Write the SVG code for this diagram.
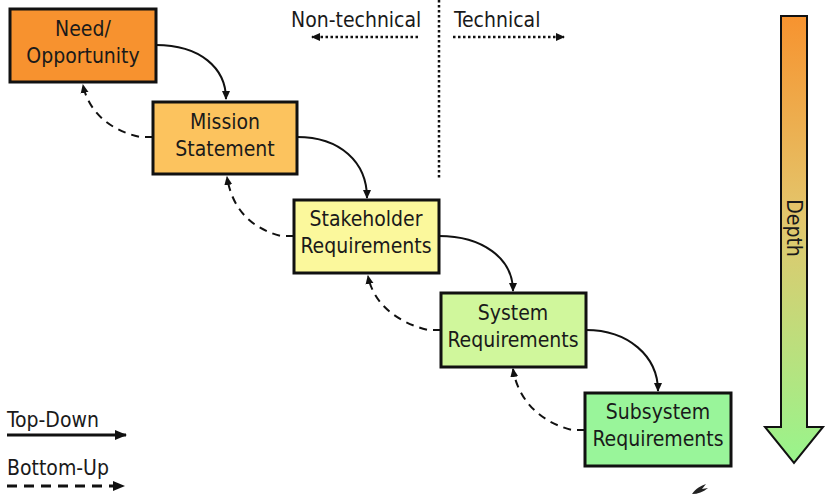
<svg xmlns="http://www.w3.org/2000/svg" width="830" height="504" viewBox="0 0 830 504">
<style>
.box{stroke:#111;stroke-width:3}
.t{font-family:"DejaVu Sans Condensed","DejaVu Sans","Liberation Sans",sans-serif;font-stretch:condensed;font-size:21px;fill:#1a1a1a;text-anchor:middle}
.lbl{font-family:"DejaVu Sans Condensed","DejaVu Sans","Liberation Sans",sans-serif;font-stretch:condensed;font-size:21px;fill:#1a1a1a}
.solid{fill:none;stroke:#111;stroke-width:2}
.dash{fill:none;stroke:#111;stroke-width:2;stroke-dasharray:8 6}
.dot{fill:none;stroke:#111;stroke-width:2.5;stroke-dasharray:2.5 2.5}
</style>
<defs>
<marker id="ah" markerWidth="10" markerHeight="10" refX="8" refY="5" orient="auto" markerUnits="userSpaceOnUse">
<path d="M0,1 L9,5 L0,9 z" fill="#111"/>
</marker>
<marker id="ahl" markerWidth="14" markerHeight="14" refX="11" refY="6" orient="auto" markerUnits="userSpaceOnUse">
<path d="M0,1 L12,6 L0,11 z" fill="#111"/>
</marker>
<linearGradient id="dg" x1="0" y1="0" x2="0" y2="1">
<stop offset="0" stop-color="#F7932F"/>
<stop offset="0.45" stop-color="#E3C66C"/>
<stop offset="1" stop-color="#98F58C"/>
</linearGradient>
</defs>

<g id="connectors">
<path class="solid" d="M156,45 C200,45 226,68 226,99" marker-end="url(#ah)"/>
<path class="solid" d="M297,137 C340,137 367,162 367,198" marker-end="url(#ah)"/>
<path class="solid" d="M439,236 C482,236 513,258 513,291" marker-end="url(#ah)"/>
<path class="solid" d="M586,330 C628,330 658,356 658,391" marker-end="url(#ah)"/>
<path class="dash" d="M153,137 L140,137 C108,130 88,110 83,85" marker-end="url(#ah)"/>
<path class="dash" d="M294,236 L281,236 C250,228 232,208 227,177" marker-end="url(#ah)"/>
<path class="dash" d="M441,330 L428,330 C395,322 373,302 368,276" marker-end="url(#ah)"/>
<path class="dash" d="M585,430 L572,430 C540,422 518,400 513,369" marker-end="url(#ah)"/>
</g>

<g id="need">
<rect class="box" x="10" y="9" width="146" height="73" fill="#F7922F"/>
<text class="t" x="83" y="36">Need/</text>
<text class="t" x="83" y="63">Opportunity</text>
</g>
<g id="mission">
<rect class="box" x="153" y="102" width="144" height="72" fill="#FCC35E"/>
<text class="t" x="225" y="129">Mission</text>
<text class="t" x="225" y="156">Statement</text>
</g>
<g id="stakeholder">
<rect class="box" x="294" y="200" width="145" height="73" fill="#FBF89C"/>
<text class="t" x="366" y="226">Stakeholder</text>
<text class="t" x="366" y="253">Requirements</text>
</g>
<g id="system">
<rect class="box" x="441" y="293" width="145" height="74" fill="#D0F79C"/>
<text class="t" x="513" y="320">System</text>
<text class="t" x="513" y="347">Requirements</text>
</g>
<g id="subsystem">
<rect class="box" x="585" y="393" width="146" height="73" fill="#99F59A"/>
<text class="t" x="658" y="419">Subsystem</text>
<text class="t" x="658" y="446">Requirements</text>
</g>

<g id="divider">
<line class="dot" x1="439" y1="0" x2="439" y2="180" stroke-width="2"/>
<text class="lbl" x="291" y="27">Non-technical</text>
<line class="dot" x1="418" y1="37" x2="312" y2="37" marker-end="url(#ah)"/>
<text class="lbl" x="454" y="27">Technical</text>
<line class="dot" x1="453" y1="37" x2="564" y2="37" marker-end="url(#ah)"/>
</g>

<g id="depth">
<path d="M781,16 L807,16 L807,427 L823,427 L794,463 L765,427 L781,427 Z" fill="url(#dg)" stroke="#111" stroke-width="2"/>
<text class="lbl" transform="translate(787,228) rotate(90)" text-anchor="middle">Depth</text>
</g>

<g id="legend">
<text class="lbl" x="7" y="427">Top-Down</text>
<line x1="7" y1="435" x2="126" y2="435" stroke="#111" stroke-width="3" marker-end="url(#ahl)"/>
<text class="lbl" x="7" y="475">Bottom-Up</text>
<line x1="7" y1="486" x2="124" y2="486" stroke="#111" stroke-width="3" stroke-dasharray="10 7" marker-end="url(#ahl)"/>
</g>

<path d="M692,494 C696,488 701,486 706,484 L702,489 L708,488 C703,492 698,494 692,494 Z" fill="#222"/>
</svg>
